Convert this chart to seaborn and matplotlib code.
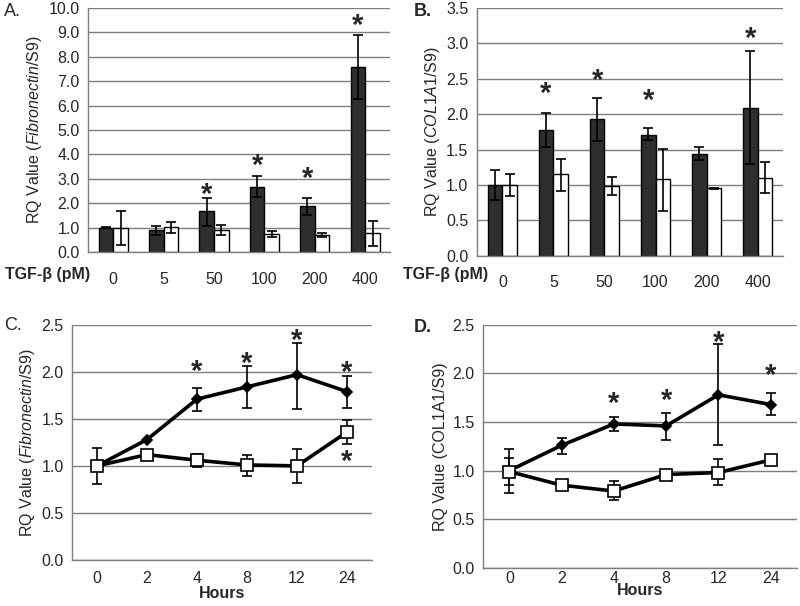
import numpy as np
import pandas as pd
import matplotlib
matplotlib.use("Agg")
import matplotlib.pyplot as plt
import seaborn as sns

# ---- data ----
doses = ["0", "5", "50", "100", "200", "400"]
hours = ["0", "2", "4", "8", "12", "24"]

# Panel A: Fibronectin/S9 by TGF-b dose
a_black = [1.00, 0.90, 1.67, 2.68, 1.90, 7.58]
a_black_lo = [0.97, 0.72, 1.08, 2.26, 1.52, 6.26]
a_black_hi = [1.02, 1.07, 2.22, 3.10, 2.20, 8.90]
a_white = [1.00, 1.03, 0.92, 0.75, 0.72, 0.77]
a_white_lo = [0.30, 0.80, 0.70, 0.62, 0.62, 0.25]
a_white_hi = [1.68, 1.23, 1.12, 0.88, 0.80, 1.27]
a_stars = [None, None, 2.62, 3.80, 3.26, 9.55]

# Panel B: COL1A1/S9 by TGF-b dose
b_black = [1.00, 1.78, 1.93, 1.71, 1.44, 2.09]
b_black_lo = [0.78, 1.54, 1.62, 1.63, 1.35, 1.29]
b_black_hi = [1.21, 2.01, 2.23, 1.80, 1.54, 2.89]
b_white = [1.00, 1.15, 0.98, 1.08, 0.95, 1.10]
b_white_lo = [0.84, 0.91, 0.86, 0.63, 0.94, 0.88]
b_white_hi = [1.15, 1.37, 1.11, 1.51, 0.95, 1.32]
b_stars = [None, 2.38, 2.57, 2.28, None, 3.16]

# Panel C: Fibronectin/S9 time course
c_black = [1.00, 1.28, 1.71, 1.84, 1.97, 1.79]
c_black_lo = [1.00, 1.28, 1.58, 1.62, 1.61, 1.62]
c_black_hi = [1.00, 1.28, 1.83, 2.06, 2.31, 1.96]
c_white = [1.00, 1.12, 1.06, 1.01, 1.00, 1.36]
c_white_lo = [0.81, 1.12, 0.99, 0.89, 0.82, 1.23]
c_white_hi = [1.19, 1.12, 1.13, 1.12, 1.18, 1.49]
c_stars = [None, None, 2.07, 2.16, 2.40, 2.06]
c_stars_low = [None, None, None, None, None, 1.12]

# Panel D: COL1A1/S9 time course
d_black = [1.00, 1.26, 1.48, 1.46, 1.78, 1.68]
d_black_lo = [0.77, 1.17, 1.41, 1.32, 1.26, 1.57]
d_black_hi = [1.22, 1.34, 1.55, 1.59, 2.30, 1.80]
d_white = [0.99, 0.85, 0.79, 0.96, 0.98, 1.11]
d_white_lo = [0.85, 0.85, 0.70, 0.96, 0.85, 1.11]
d_white_hi = [1.13, 0.85, 0.89, 0.96, 1.12, 1.11]
d_stars = [None, None, 1.76, 1.79, 2.39, 2.05]

GRID = "#7f7f7f"
DARK = "#2e2e2e"

sns.set_style("white")
plt.rcParams["font.family"] = ["Liberation Sans", "DejaVu Sans"]
plt.rcParams["mathtext.fontset"] = "custom"
plt.rcParams["mathtext.rm"] = "Liberation Sans"
plt.rcParams["mathtext.it"] = "Liberation Sans:italic"

fig = plt.figure(figsize=(8, 6.06), dpi=100)
axA = fig.add_axes([0.110, 0.584, 0.378, 0.403])
axB = fig.add_axes([0.596, 0.578, 0.383, 0.409])
axC = fig.add_axes([0.090, 0.076, 0.375, 0.388])
axD = fig.add_axes([0.604, 0.063, 0.392, 0.401])


def star(ax, x, y):
    # asterisk glyph sits high in its box, so nudge it down a little
    ax.annotate("*", (x, y), xytext=(0, -5), textcoords="offset points",
                ha="center", va="center", fontsize=21, fontweight="bold")


def style_axes(ax, ymax, step):
    ax.set_ylim(0, ymax)
    ax.set_xlim(-0.5, 5.5)
    ticks = np.arange(0, ymax + step / 2, step)
    ax.set_yticks(ticks)
    ax.set_yticklabels([f"{t:.1f}" for t in ticks], fontsize=11.5)
    ax.yaxis.grid(True, color=GRID, lw=1)
    ax.set_axisbelow(True)
    for s in ["top", "right"]:
        ax.spines[s].set_visible(False)
    for s in ["left", "bottom"]:
        ax.spines[s].set_color(GRID)
        ax.spines[s].set_linewidth(1)
    ax.tick_params(axis="y", length=4, color=GRID, pad=2)


def bar_panel(ax, black, blo, bhi, white, wlo, whi, stars, ymax, step, ylabel):
    df = pd.DataFrame({
        "dose": doses * 2,
        "value": black + white,
        "group": ["TGF"] * 6 + ["ctrl"] * 6,
    })
    sns.barplot(data=df, x="dose", y="value", hue="group", order=doses,
                palette=[DARK, "white"], edgecolor="black", linewidth=1,
                width=0.58, legend=False, ax=ax)
    style_axes(ax, ymax, step)
    bars = ax.patches[:12]
    xb = [p.get_x() + p.get_width() / 2 for p in bars[:6]]
    xw = [p.get_x() + p.get_width() / 2 for p in bars[6:]]
    for xs, v, lo, hi in [(xb, black, blo, bhi), (xw, white, wlo, whi)]:
        v = np.array(v)
        err = [v - np.array(lo), np.array(hi) - v]
        ax.errorbar(xs, v, yerr=err, fmt="none", ecolor="black",
                    elinewidth=1.2, capsize=3.5, capthick=1.2, zorder=5)
    for x, s in zip(xb, stars):
        if s is not None:
            star(ax, x, s)
    ax.tick_params(axis="x", length=0, pad=14, labelsize=11.5)
    ax.set_xlabel("")
    ax.set_ylabel(ylabel, fontsize=11.5, labelpad=3)


def line_panel(ax, black, blo, bhi, white, wlo, whi, stars, ylabel,
               stars_low=None, tick_pad=8, xlabel_pad=0):
    for vals, lo, hi, mk, fc, ms in [
            (black, blo, bhi, "D", "black", 5.5),
            (white, wlo, whi, "s", "white", 8)]:
        v = np.array(vals)
        ax.errorbar(hours, v, yerr=[v - np.array(lo), np.array(hi) - v],
                    fmt="none", ecolor="black", elinewidth=1.2, capsize=3.5,
                    capthick=1.2, zorder=3)
        sns.lineplot(x=hours, y=vals, sort=False, color="black", lw=2.6,
                     marker=mk, markersize=ms, markerfacecolor=fc,
                     markeredgecolor="black", markeredgewidth=1.2,
                     ax=ax, zorder=4)
    style_axes(ax, 2.5, 0.5)
    ax.set_xticks(np.arange(-0.5, 6, 1), minor=True)
    ax.tick_params(axis="x", which="major", length=0, pad=tick_pad,
                   labelsize=11.5)
    ax.tick_params(axis="x", which="minor", length=5, direction="inout",
                   color="#444444", width=1)
    for i, s in enumerate(stars):
        if s is not None:
            star(ax, i, s)
    if stars_low:
        for i, s in enumerate(stars_low):
            if s is not None:
                star(ax, i, s)
    ax.set_xlabel("Hours", fontsize=11.5, fontweight="bold",
                  labelpad=xlabel_pad)
    ax.set_ylabel(ylabel, fontsize=11.5, labelpad=3)


bar_panel(axA, a_black, a_black_lo, a_black_hi, a_white, a_white_lo,
          a_white_hi, a_stars, 10, 1.0,
          r"RQ Value ($\mathit{Fibronectin}$/S9)")
bar_panel(axB, b_black, b_black_lo, b_black_hi, b_white, b_white_lo,
          b_white_hi, b_stars, 3.5, 0.5,
          r"RQ Value ($\mathit{COL1A1}$/S9)")
line_panel(axC, c_black, c_black_lo, c_black_hi, c_white, c_white_lo,
           c_white_hi, c_stars, r"RQ Value ($\mathit{Fibronectin}$/S9)",
           stars_low=c_stars_low)
line_panel(axD, d_black, d_black_lo, d_black_hi, d_white, d_white_lo,
           d_white_hi, d_stars, "RQ Value (COL1A1/S9)",
           tick_pad=2, xlabel_pad=-2)

# dose row labels
fig.text(5 / 800, 1 - 274 / 606, "TGF-β (pM)", fontsize=11.5,
         fontweight="bold", va="center", ha="left")
fig.text(403 / 800, 1 - 274 / 606, "TGF-β (pM)", fontsize=11.5,
         fontweight="bold", va="center", ha="left")

# panel letters
fig.text(4 / 800, 1 - 12 / 606, "A.", fontsize=13, va="center")
fig.text(414 / 800, 1 - 12 / 606, "B.", fontsize=13, fontweight="bold",
         va="center")
fig.text(4 / 800, 1 - 325 / 606, "C.", fontsize=13, va="center")
fig.text(414 / 800, 1 - 327 / 606, "D.", fontsize=13, fontweight="bold",
         va="center")

fig.savefig("out.png", dpi=100)
